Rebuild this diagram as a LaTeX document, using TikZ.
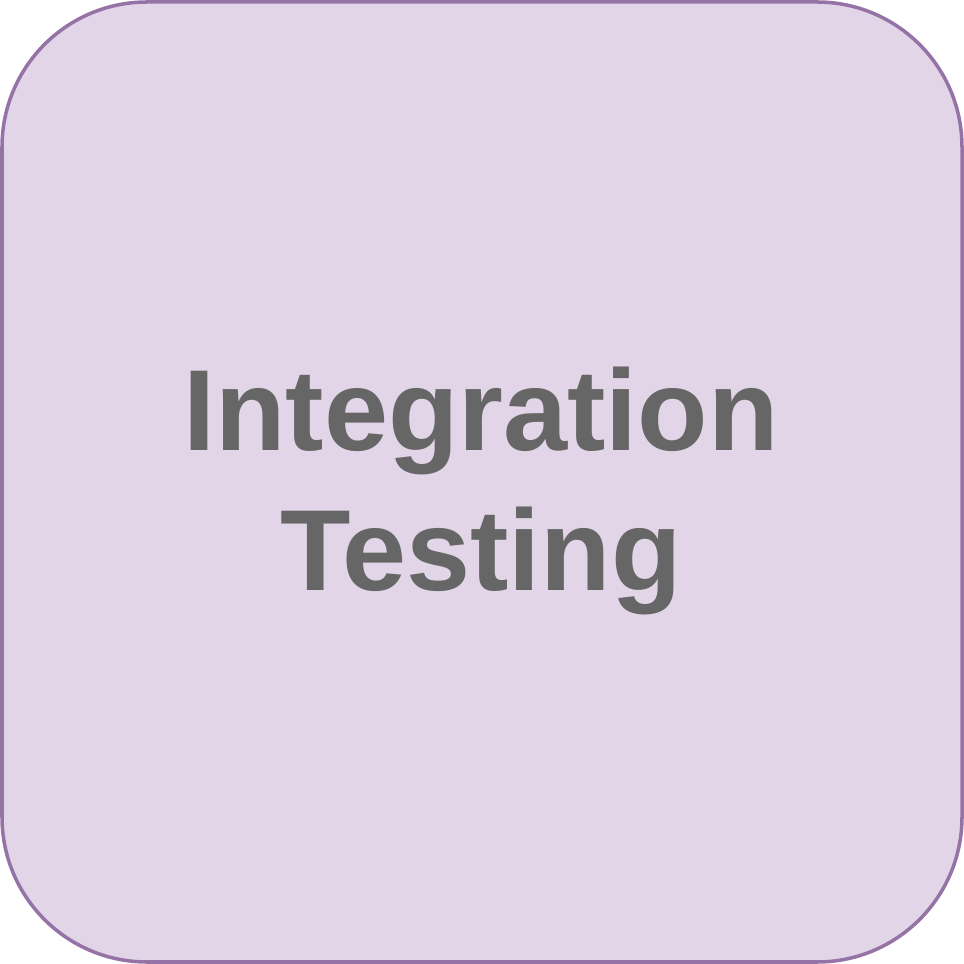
\documentclass[tikz,border=0pt]{standalone}
\usepackage{fontspec}
\setmainfont{Liberation Sans}
\definecolor{boxfill}{HTML}{E1D5E7}
\definecolor{boxline}{HTML}{9673A6}
\definecolor{labelgray}{HTML}{666666}
\begin{document}
\begin{tikzpicture}
  \tikzset{
    stagebox/.style={draw=boxline, fill=boxfill, line width=1pt, rounded corners=1.45cm},
    stagelabel/.style={text=labelgray, font=\bfseries\fontsize{32.8pt}{39.8pt}\selectfont, align=center, inner sep=0pt}
  }
  \useasboundingbox (0,0) rectangle (9.64,9.64);
  \draw[stagebox] (0.02,0.02) rectangle (9.62,9.62);
  \node[stagelabel] (label) at (4.81,4.73) {Integration\\Testing};
\end{tikzpicture}
\end{document}
